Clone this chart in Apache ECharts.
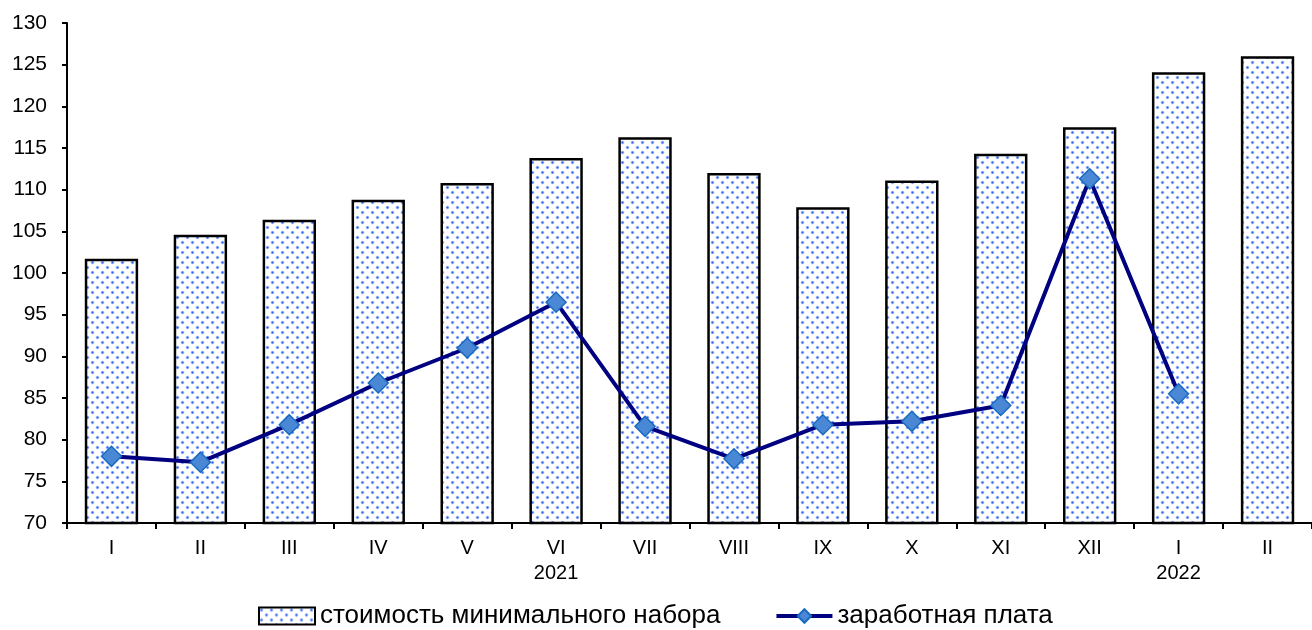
<!DOCTYPE html>
<html>
<head>
<meta charset="utf-8">
<script src="https://cdn.jsdelivr.net/npm/echarts@6/dist/echarts.min.js"></script>
<style>
html,body{margin:0;padding:0;background:#fff;}
#c{width:1312px;height:630px;}
</style>
</head>
<body>
<div id="c"></div>
<script>
const categories = ['I','II','III','IV','V','VI','VII','VIII','IX','X','XI','XII','I','II'];
const yearLabels = {5:'2021', 12:'2022'};
const costValues = [101.7,104.6,106.4,108.8,110.8,113.8,116.3,112.0,107.9,111.1,114.3,117.5,124.1,126.0];
const wageValues = [78.0,77.3,81.8,86.8,91.0,96.5,81.6,77.7,81.8,82.2,84.1,111.3,85.5,null];
const seriesNames = ['стоимость минимального набора','заработная плата'];
const yTicks = {min:70, max:130, interval:5};

function makePattern(){
  const c = document.createElement('canvas');
  c.width = 10; c.height = 10;
  const g = c.getContext('2d');
  g.fillStyle = '#ffffff';
  g.fillRect(0,0,10,10);
  const dots = [[2.5,2.5],[7.5,7.5]];
  for (const [x,y] of dots){
    g.fillStyle = 'rgba(110,150,245,0.6)';
    g.beginPath(); g.arc(x,y,1.8,0,Math.PI*2); g.fill();
    g.fillStyle = '#2f62f0';
    g.beginPath(); g.arc(x,y,1.0,0,Math.PI*2); g.fill();
  }
  return c;
}
const pattern = {image: makePattern(), repeat: 'repeat'};

const chart = echarts.init(document.getElementById('c'), null, {renderer:'canvas'});
const font = 'Liberation Sans, Arial, sans-serif';
chart.setOption({
  animation:false,
  textStyle:{fontFamily:font, color:'#000'},
  grid:{left:67, right:0, top:23, bottom:107, containLabel:false},
  legend:{
    top:598, left:253,
    itemGap:54, itemWidth:56, itemHeight:17,
    textStyle:{fontSize:26, color:'#000', fontFamily:font},
    data:[
      {name:seriesNames[0], icon:'rect', itemStyle:{borderColor:'#000', borderWidth:2}},
      {name:seriesNames[1], lineStyle:{color:'#000080', width:4}}
    ]
  },
  xAxis:{
    type:'category', data:categories, boundaryGap:true,
    axisLine:{lineStyle:{color:'#000', width:2}},
    axisTick:{show:true, alignWithLabel:false, length:6, lineStyle:{color:'#000', width:2}},
    axisLabel:{
      color:'#000', fontSize:20, margin:13, lineHeight:25, interval:0,
      formatter:(v,i)=> yearLabels[i] ? v+'\n'+yearLabels[i] : v
    }
  },
  yAxis:{
    type:'value', min:yTicks.min, max:yTicks.max, interval:yTicks.interval,
    axisLine:{show:true, lineStyle:{color:'#000', width:2}},
    axisTick:{show:true, length:5, lineStyle:{color:'#000', width:2}},
    splitLine:{show:false},
    axisLabel:{color:'#000', fontSize:21, margin:20}
  },
  series:[
    {
      name:seriesNames[0], type:'bar', data:costValues,
      barCategoryGap:'40%',
      itemStyle:{color:pattern, borderColor:'#000', borderWidth:2.5}
    },
    {
      name:seriesNames[1], type:'line', data:wageValues,
      symbol:'diamond', symbolSize:20,
      lineStyle:{color:'#000080', width:4},
      itemStyle:{color:'#4a88d6', borderColor:'#1a6bbf', borderWidth:1.5},
      z:5
    }
  ]
});
</script>
</body>
</html>
